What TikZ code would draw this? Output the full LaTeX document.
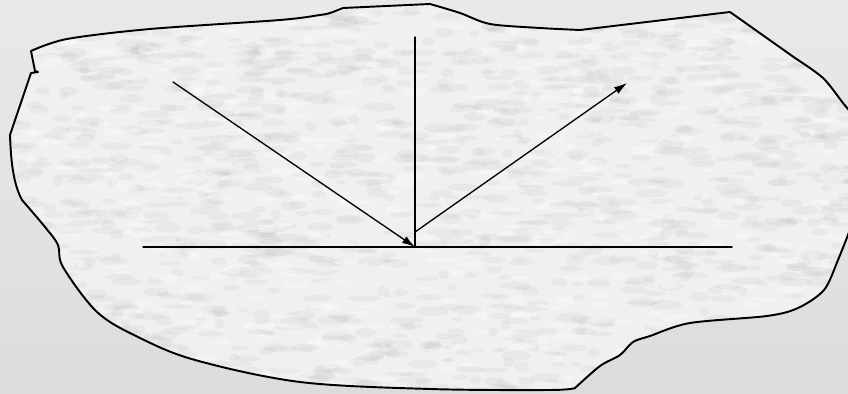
\documentclass[tikz,border=0pt]{standalone}
\usetikzlibrary{arrows.meta}
\definecolor{bgtop}{RGB}{233,233,233}
\definecolor{bgbot}{RGB}{220,220,220}
\definecolor{stone}{RGB}{240,240,240}
\definecolor{speck}{RGB}{140,140,140}

% outline of the stone slab, in pixel units
\newcommand{\slabpath}{%
  (31,51) -- (35,71) -- (38,72) -- (31,73) -- (10,135)
  .. controls (11,165) and (14,185) .. (22,200)
  -- plot[smooth,tension=.55] coordinates {(22,200) (45,227) (58,245) (63,267)
     (97,312) (138,337) (195,360) (300,382) (430,389) (550,390) (575,388)}
  -- plot[smooth,tension=.5] coordinates {(575,388) (600,366) (620,355) (633,342)
     (650,336) (690,323) (767,316) (798,308) (824,290) (838,260) (853,222)}
  -- (853,115)
  -- plot[smooth,tension=.5] coordinates {(853,115) (843,103) (823,78) (795,58)}
  -- (730,12) -- (580,30)
  -- plot[smooth,tension=.5] coordinates {(580,30) (540,28) (490,24) (460,13) (430,4)}
  -- (343,8)
  -- plot[smooth,tension=.5] coordinates {(343,8) (330,13) (320,15) (280,20)
     (150,29) (67,39) (31,51)}
  -- cycle}

\begin{document}
\begin{tikzpicture}[
  x=0.02cm,y=-0.02cm,
  line cap=round,line join=round,
  edge/.style={draw=black,line width=1.1pt},
  line/.style={draw=black,line width=.75pt},
  ray/.style={line,-{Latex[length=2.6mm,width=1.6mm]}},
  grain/.style={fill=speck,opacity=.07},
  shine/.style={fill=white,opacity=.3}
]
\useasboundingbox (0,0) rectangle (848,394);
\shade[top color=bgtop,bottom color=bgbot] (0,0) rectangle (848,394);

% slab with granite texture
\fill[stone] \slabpath;
\begin{scope}
  \clip \slabpath;
  \pgfmathsetseed{17}
  \foreach \i in {1,...,1400}
    \fill[grain] ({rnd*860},{rnd*400}) ellipse [x radius={5+rnd*12},y radius={2+rnd*3}];
  \foreach \i in {1,...,600}
    \fill[shine] ({rnd*860},{rnd*400}) ellipse [x radius={4+rnd*10},y radius={1.5+rnd*2.5}];
\end{scope}
\draw[edge] \slabpath;

% surface, normal and rays
\coordinate (lft) at (143,247);
\coordinate (rgt) at (732,247);
\coordinate (hit) at (415,247);
\coordinate (top) at (415,37);
\coordinate (src) at (173,82);
\coordinate (foot) at (415,232);
\coordinate (exit) at (627,83);

\draw[line] (lft) -- (rgt);
\draw[line] (top) -- (hit);
\draw[ray] (src) -- (hit);
\draw[ray] (foot) -- (exit);

\end{tikzpicture}
\end{document}
